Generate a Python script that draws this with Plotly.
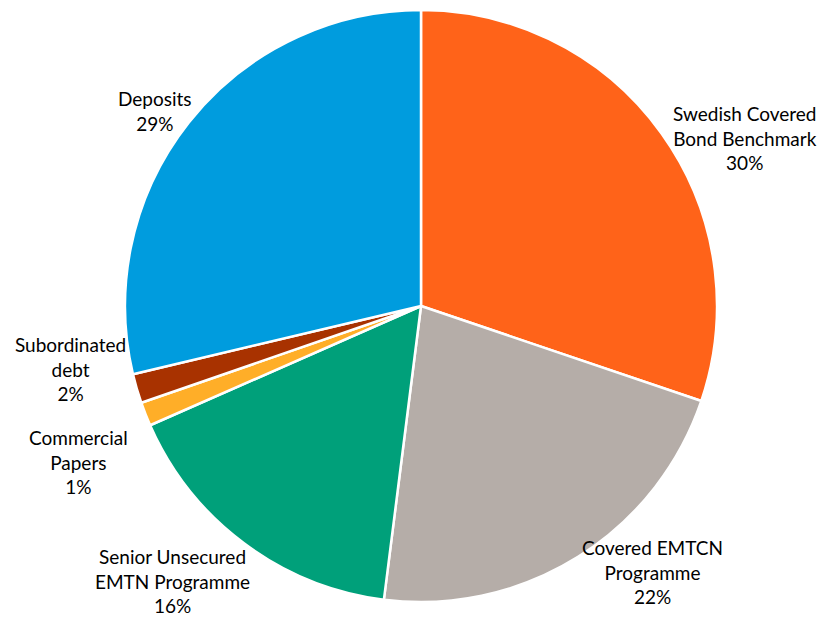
import plotly.graph_objects as go

labels = ["Swedish Covered<br>Bond Benchmark", "Covered EMTCN<br>Programme",
          "Senior Unsecured<br>EMTN Programme", "Commercial<br>Papers",
          "Subordinated<br>debt", "Deposits"]
values = [30.2, 21.8, 16.4, 1.3, 1.6, 28.7]
colors = ["#FF6319", "#B5ADA8", "#00A07A", "#FFAE28", "#A83200", "#009CDE"]

# label centers in window pixels (text placement only)
label_px = [(745, 138), (652, 572), (172, 581), (78, 462), (70, 369), (155, 111)]

OFF = 8  # page body margin
W, H = 825 - OFF, 621 - OFF
cx, cy, r = 421 - OFF, 306 - OFF, 296

fig = go.Figure(go.Pie(
    labels=labels, values=values, sort=False, direction="clockwise",
    rotation=0, textposition="none", hoverinfo="label+percent",
    marker=dict(colors=colors, line=dict(color="white", width=2.5)),
    domain=dict(x=[(cx - r) / W, (cx + r) / W], y=[1 - (cy + r) / H, 1 - (cy - r) / H]),
    showlegend=False,
))

total = sum(values)
for lab, v, (px, py) in zip(labels, values, label_px):
    fig.add_annotation(
        x=(px - OFF) / W, y=1 - (py - OFF) / H, xref="paper", yref="paper",
        text=f"{lab}<br>{round(v / total * 100)}%", showarrow=False,
        xanchor="center", yanchor="middle", align="center",
        font=dict(family="Lato, Carlito, sans-serif", size=19, color="#000000"),
    )

fig.update_layout(
    width=W, height=H, margin=dict(l=0, r=0, t=0, b=0),
    paper_bgcolor="white", plot_bgcolor="white",
)
fig.write_html("out.html")
